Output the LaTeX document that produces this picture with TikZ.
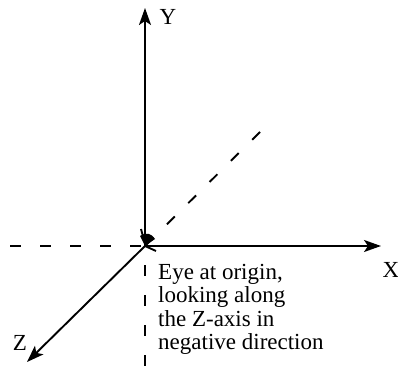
\documentclass[tikz,border=0pt]{standalone}
\usepackage{fontspec}
\setmainfont{Liberation Serif}
\usetikzlibrary{arrows.meta}
\tikzset{
  >=Stealth,
  axis/.style={->,line width=1.9pt,
               >={Stealth[length=17pt,width=12pt,inset=4pt]}},
  negaxis/.style={line width=1.9pt,dash pattern=on 11pt off 19pt},
  axlbl/.style={font=\fontsize{23}{23.3}\selectfont,inner sep=0pt},
  note/.style={font=\fontsize{23}{23.3}\selectfont,align=left,inner sep=0pt,
               anchor=north west},
}
\begin{document}
\begin{tikzpicture}[x=1pt,y=-1pt]
  \useasboundingbox (0,0) rectangle (398,377);

  % origin and axis ends
  \coordinate (O) at (145,246);
  \coordinate (xtip) at (381,246);
  \coordinate (ytip) at (145,8);
  \coordinate (ztip) at (27,362);
  \coordinate (xneg) at (10,246);
  \coordinate (yneg) at (145,377);
  \coordinate (zneg) at (260,132);

  % positive axes
  \draw[axis] (O) -- (xtip);
  \draw[axis] (O) -- (ytip);
  \draw[axis] (O) -- (ztip);

  % negative axes
  \draw[negaxis] (xneg) -- (O);
  \draw[negaxis,dash phase=11pt] (O) -- (yneg);
  \draw[negaxis] (zneg) -- (O);

  % the eye
  \fill (140,236) -- (O) -- (155,239) .. controls (151,233) and (146,232) .. (140,236);
  \draw[line width=1.9pt] (141,229) -- (144,240);
  \draw[line width=1.9pt] (O) -- (156,251);

  \node[axlbl] (xl) at (391,270) {X};
  \node[axlbl] (yl) at (168,17) {Y};
  \node[axlbl] (zl) at (20,343) {Z};

  \node[note] (eye) at (158,264)
    {Eye at origin,\\looking along\\the Z-axis in\\negative direction};
\end{tikzpicture}
\end{document}
